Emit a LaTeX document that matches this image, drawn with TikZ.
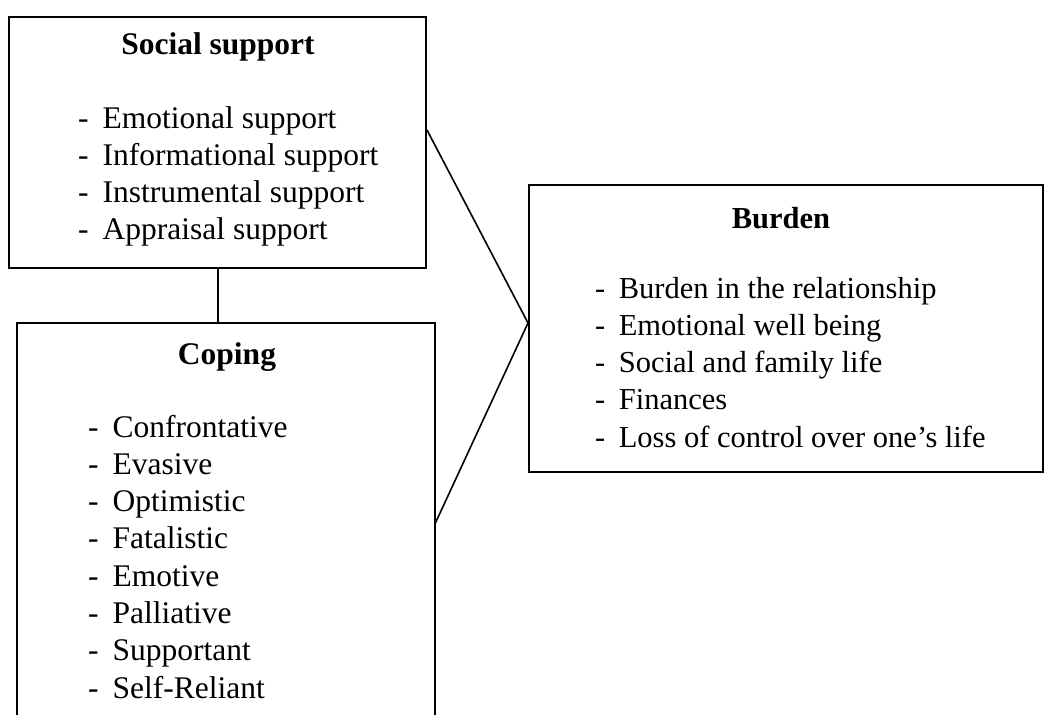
\documentclass[tikz,border=0pt]{standalone}
\usepackage{fontspec}
\setmainfont{Liberation Serif}
\begin{document}
\begin{tikzpicture}[x=1pt,y=-1pt,
  boxstyle/.style={draw, line width=2pt, inner sep=0pt, anchor=north west},
  openbox/.style={inner sep=0pt, anchor=north west},
  linkstyle/.style={draw, line width=1.6pt},
  titlestyle/.style={font=\fontsize{31.5}{37.3}\selectfont\bfseries, inner sep=0pt, anchor=base},
  liststyle/.style={font=\fontsize{31.5}{37.3}\selectfont, inner sep=0pt, anchor=base west},
  smalltitle/.style={titlestyle, font=\fontsize{30.5}{37.3}\selectfont\bfseries},
  smalllist/.style={liststyle, font=\fontsize{30.5}{37.3}\selectfont}]
\useasboundingbox (0,0) rectangle (1045,715);
% boxes
\node[boxstyle, minimum width=417pt, minimum height=251pt] (social) at (8,16) {};
\node[openbox, minimum width=418pt, minimum height=420pt] (coping) at (17,323) {};
\node[boxstyle, minimum width=514pt, minimum height=287pt] (burden) at (528,184) {};
\draw[line width=2pt] (coping.south west) -- (coping.north west) -- (coping.north east) -- (coping.south east);
% titles
\node[titlestyle] (socialtitle) at (218,54) {Social support};
\node[titlestyle] (copingtitle) at (227,364) {Coping};
\node[smalltitle] (burdentitle) at (781,228) {Burden};
% lists
\node[liststyle] (sociallist) at (78,128) {\begin{tabular}[t]{@{}l@{\hspace{14pt}}l@{}}
- & Emotional support\\
- & Informational support\\
- & Instrumental support\\
- & Appraisal support
\end{tabular}};
\node[liststyle] (copinglist) at (88,437) {\begin{tabular}[t]{@{}l@{\hspace{14pt}}l@{}}
- & Confrontative\\
- & Evasive\\
- & Optimistic\\
- & Fatalistic\\
- & Emotive\\
- & Palliative\\
- & Supportant\\
- & Self-Reliant
\end{tabular}};
\node[smalllist] (burdenlist) at (595,298) {\begin{tabular}[t]{@{}l@{\hspace{13.5pt}}l@{}}
- & Burden in the relationship\\
- & Emotional well being\\
- & Social and family life\\
- & Finances\\
- & Loss of control over one’s life
\end{tabular}};
% connectors
\coordinate (sjoin) at ([yshift=-114pt]social.north east);
\coordinate (cjoin) at ([yshift=-200pt]coping.north east);
\coordinate (bjoin) at ([yshift=-139pt]burden.north west);
\draw[linkstyle] (social.south -| 218,0) -- (coping.north -| 218,0);
\draw[linkstyle] (sjoin) -- (bjoin);
\draw[linkstyle] (cjoin) -- (bjoin);
\end{tikzpicture}
\end{document}
